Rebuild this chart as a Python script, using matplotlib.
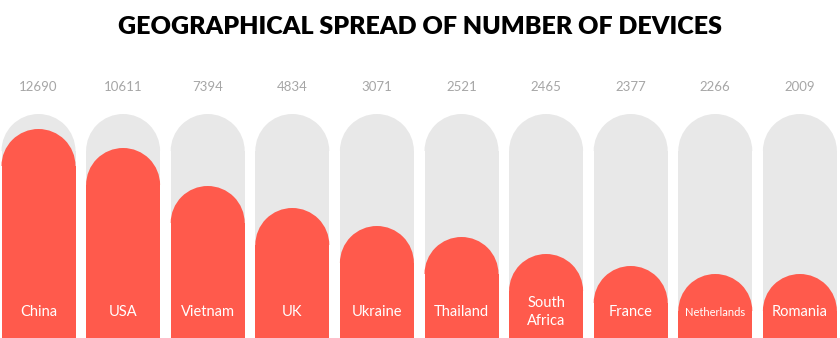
import matplotlib
matplotlib.use('Agg')
import matplotlib.pyplot as plt
from matplotlib.patches import Wedge

countries=['China','USA','Vietnam','UK','Ukraine','Thailand','South\nAfrica','France','Netherlands','Romania']
devices=[12690,10611,7394,4834,3071,2521,2465,2377,2266,2009]
# fill level of each pill (px from bottom); bars are not linear in value
level=[209,190,152,130,112,101,84,72,64,64]
track=224

RED='#ff5a4c'; GREY='#e8e8e8'
plt.rcParams['font.family']=['Lato','DejaVu Sans']

fig=plt.figure(figsize=(8.4,3.38),dpi=100)
ax=fig.add_axes([0,0,1,1]); ax.set_xlim(0,840); ax.set_ylim(0,338); ax.axis('off')
pitch=84.6; x0=38.5; w=74; r=w/2
xs=[x0+i*pitch for i in range(len(countries))]

def pill(x,h,c):
    ax.bar(x,h-r,width=w,bottom=0,color=c,linewidth=0)
    ax.add_patch(Wedge((x,h-r),r,0,180,color=c,linewidth=0))

for x,h,v,n in zip(xs,level,devices,countries):
    pill(x,track,GREY); pill(x,h,RED)
    ax.text(x,251,str(v),ha='center',va='center',color='#a6a6a6',fontsize=9.5)
    fs=8 if n=='Netherlands' else 10.5
    ax.text(x,26,n,ha='center',va='center',color='white',fontsize=fs,linespacing=1.3)

fig.text(0.5,1-27/338,'GEOGRAPHICAL SPREAD OF NUMBER OF DEVICES',ha='center',va='center',fontsize=18,fontweight='heavy',color='black')
fig.savefig('out.png',dpi=100,facecolor='white')
